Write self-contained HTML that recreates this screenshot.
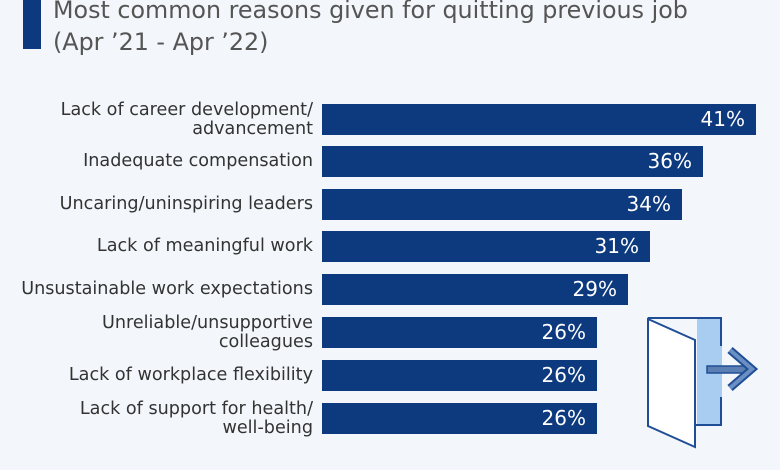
<!DOCTYPE html>
<html><head><style>
body{margin:0;width:780px;height:470px;background:#f3f6fa;font-family:"DejaVu Sans","Liberation Sans",sans-serif;position:relative;overflow:hidden}
.t{position:absolute;left:53px;color:#555;font-size:23.8px;line-height:32px;white-space:nowrap}
.lab{position:absolute;right:467px;text-align:right;color:#333;font-size:17.6px;line-height:19px;white-space:nowrap}
.bar{position:absolute;left:322px;height:31px;background:#0d3a7e;color:#fff;font-size:20px;line-height:31px;text-align:right;box-sizing:border-box;padding-right:11px}
</style></head><body>
<div style="position:absolute;left:23px;top:0;width:18px;height:49px;background:#0d3a7e"></div>
<div class="t" style="top:-6px">Most common reasons given for quitting previous job</div>
<div class="t" style="top:26px">(Apr ’21 - Apr ’22)</div>

<div class="lab" style="top:101px">Lack of career development/<br>advancement</div>
<div class="bar" style="top:104px;width:434px">41%</div>
<div class="lab" style="top:152px">Inadequate compensation</div>
<div class="bar" style="top:146px;width:381px">36%</div>
<div class="lab" style="top:195px">Uncaring/uninspiring leaders</div>
<div class="bar" style="top:189px;width:360px">34%</div>
<div class="lab" style="top:237px">Lack of meaningful work</div>
<div class="bar" style="top:231px;width:328px">31%</div>
<div class="lab" style="top:280px">Unsustainable work expectations</div>
<div class="bar" style="top:274px;width:306px">29%</div>
<div class="lab" style="top:314px">Unreliable/unsupportive<br>colleagues</div>
<div class="bar" style="top:317px;width:275px">26%</div>
<div class="lab" style="top:366px">Lack of workplace flexibility</div>
<div class="bar" style="top:360px;width:275px">26%</div>
<div class="lab" style="top:400px">Lack of support for health/<br>well-being</div>
<div class="bar" style="top:403px;width:275px">26%</div>

<svg style="position:absolute;left:0;top:0" width="780" height="470">
<rect x="697" y="318" width="25" height="107" fill="#a9cdf0"/>
<polyline points="648,318 721,318 721,346" fill="none" stroke="#1f4e96" stroke-width="2"/>
<polyline points="721,397 721,425 695,425" fill="none" stroke="#1f4e96" stroke-width="2"/>
<polygon points="648,319 695,340 695,447 648,426" fill="#fff" stroke="#1f4e96" stroke-width="2"/>
<rect x="707" y="366" width="40" height="7" fill="#5b7fb3" stroke="#1f4e96" stroke-width="1.5"/>
<polyline points="730,350 752,369 730,388" fill="none" stroke="#1f4e96" stroke-width="8"/>
<polyline points="730,350 752,369 730,388" fill="none" stroke="#6b8fc3" stroke-width="4"/>
</svg>
</body></html>
